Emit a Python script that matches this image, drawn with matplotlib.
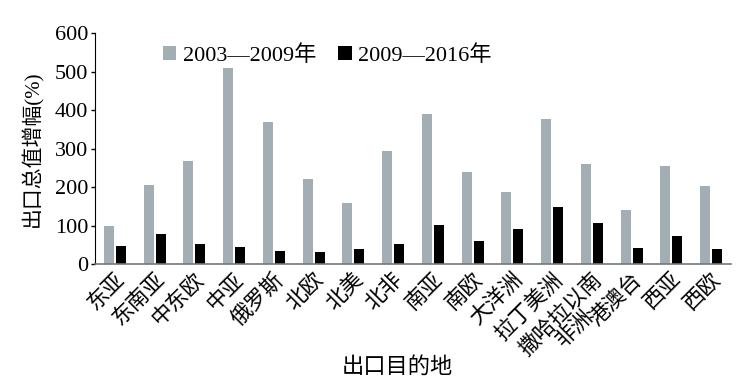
import matplotlib
matplotlib.use("Agg")
import matplotlib.pyplot as plt
import numpy as np

plt.rcParams['font.family'] = ['Liberation Serif', 'Noto Sans CJK SC', 'DejaVu Sans']

categories = ['东亚', '东南亚', '中东欧', '中亚', '俄罗斯', '北欧', '北美', '北非', '南亚',
              '南欧', '大洋洲', '拉丁美洲', '撒哈拉以南\n非洲', '港澳台', '西亚', '西欧']
growth_2003_2009 = [100, 205, 268, 510, 370, 222, 158, 293, 389, 240, 188, 377, 260, 140, 255, 203]
growth_2009_2016 = [46, 79, 53, 45, 35, 32, 40, 53, 101, 59, 92, 148, 106, 42, 74, 40]
series_labels = ['2003—2009年', '2009—2016年']
yticks = [0, 100, 200, 300, 400, 500, 600]

fig = plt.figure(figsize=(7.56, 3.89), dpi=100)
ax = fig.add_axes([0.1257, 0.321, 0.967 - 0.1257, 0.915 - 0.321])

x = np.arange(len(categories))
w = 0.25
ax.bar(x - 0.15, growth_2003_2009, width=w, color='#a3adb4', label=series_labels[0])
ax.bar(x + 0.15, growth_2009_2016, width=w, color='#000000', label=series_labels[1])

ax.set_xlim(-0.5, len(categories) - 0.5)
ax.set_ylim(0, 600)
ax.set_yticks(yticks)
ax.set_yticklabels([str(v) for v in yticks], fontsize=16)
ax.tick_params(axis='y', length=3, width=1, pad=2)
ax.tick_params(axis='x', length=0, pad=4)
ax.set_xticks(x)
ax.set_xticklabels(categories, fontsize=15.5, rotation=45, ha='right', va='top',
                   rotation_mode='anchor', multialignment='center', linespacing=0.95)

for s in ['top', 'right']:
    ax.spines[s].set_visible(False)
ax.spines['left'].set_color('black')
ax.spines['bottom'].set_color('#777777')
ax.spines['bottom'].set_linewidth(1.2)

ax.set_ylabel('出口总值增幅(%)', fontsize=15, labelpad=8)
fig.text(0.526, 0.056, '出口目的地', fontsize=16, ha='center', va='center')

leg = ax.legend(loc='upper left', bbox_to_anchor=(0.075, 1.035), ncol=2, frameon=False,
                fontsize=16, handlelength=0.6, handleheight=0.6, handletextpad=0.3,
                columnspacing=1.0)

fig.savefig('out.png', dpi=100)
